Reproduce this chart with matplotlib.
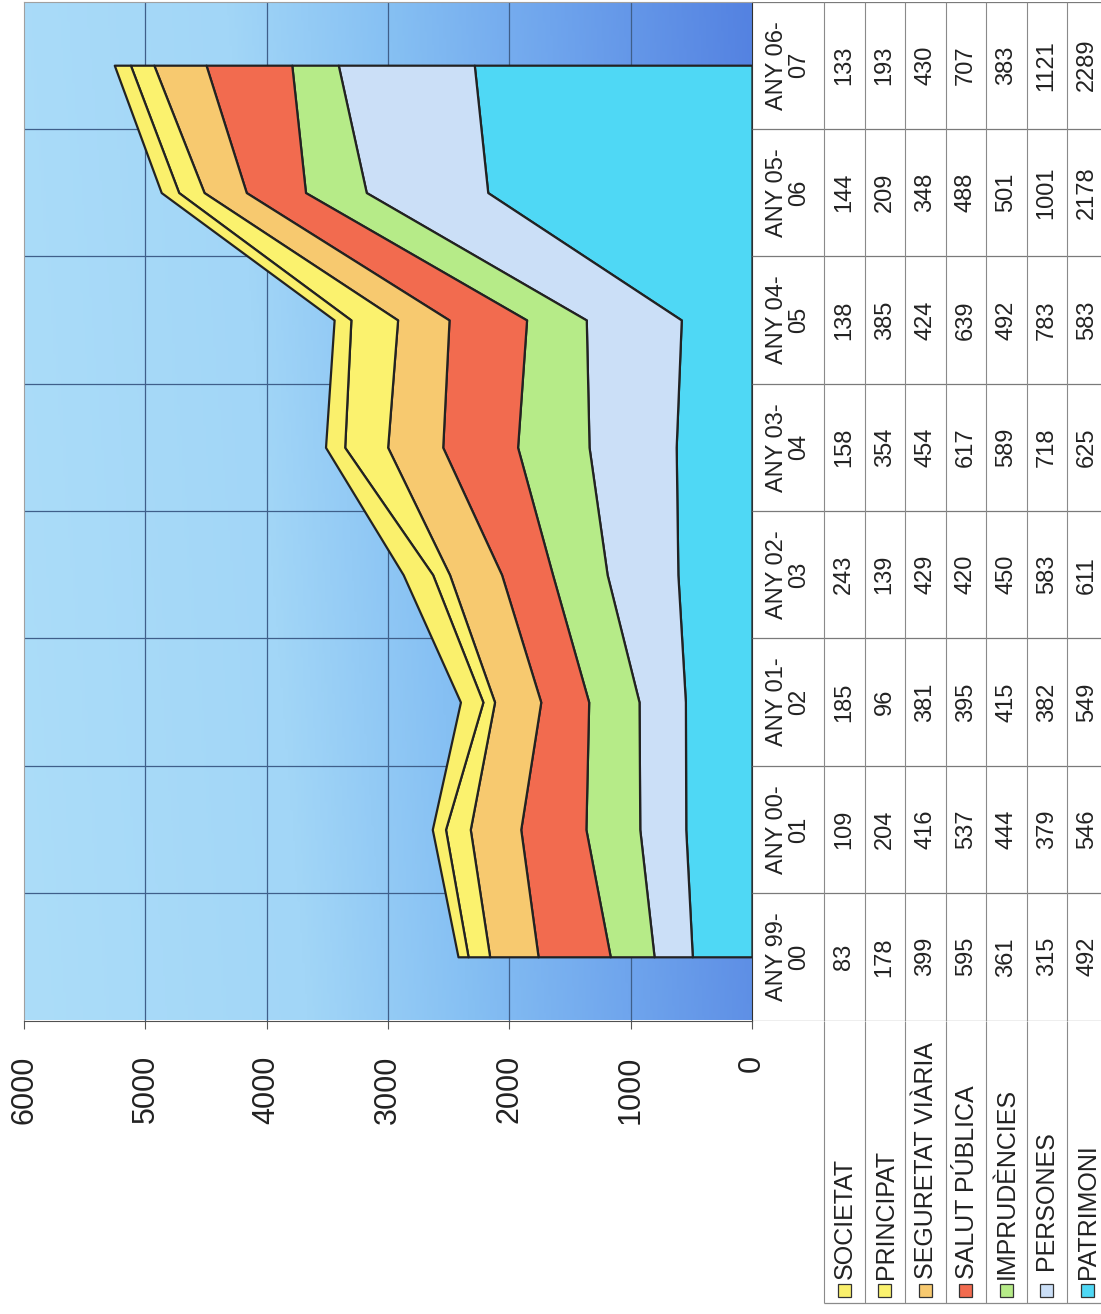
import numpy as np
import matplotlib.pyplot as plt
from matplotlib.colors import LinearSegmentedColormap
from matplotlib.patches import Rectangle

plt.rcParams['font.family'] = ['Liberation Sans', 'DejaVu Sans']

W, H, DPI = 1101, 1314, 100

# categories (school years), read bottom -> top in the rotated picture
years = ["ANY 99-\n00", "ANY 00-\n01", "ANY 01-\n02", "ANY 02-\n03",
         "ANY 03-\n04", "ANY 04-\n05", "ANY 05-\n06", "ANY 06-\n07"]

# series, in data-table order
names = ["SOCIETAT", "PRINCIPAT", "SEGURETAT VIÀRIA", "SALUT PÚBLICA",
         "IMPRUDÈNCIES", " PERSONES", "PATRIMONI"]
societat = [83, 109, 185, 243, 158, 138, 144, 133]
principat = [178, 204, 96, 139, 354, 385, 209, 193]
seguretat = [399, 416, 381, 429, 454, 424, 348, 430]
salut = [595, 537, 395, 420, 617, 639, 488, 707]
imprudencies = [361, 444, 415, 450, 589, 492, 501, 383]
persones = [315, 379, 382, 583, 718, 783, 1001, 1121]
patrimoni = [492, 546, 549, 611, 625, 583, 2178, 2289]
values = [societat, principat, seguretat, salut, imprudencies, persones, patrimoni]
colors = ["#faf06c", "#fbf26e", "#f7c96f", "#f26b4f", "#b6eb88", "#cbdff7", "#4fd8f5"]

value_ticks = [0, 1000, 2000, 3000, 4000, 5000, 6000]

fig = plt.figure(figsize=(W / DPI, H / DPI), dpi=DPI)

# main plot (rotated: values run right -> left, categories bottom -> top)
top_px, bot_px, left_px, right_px = 1.5, 1020.5, 24, 752
ax = fig.add_axes([left_px / W, (H - bot_px) / H,
                   (right_px - left_px) / W, (bot_px - top_px) / H])
ax.set_xlim(6000, 0)
ax.set_ylim(-0.5, len(years) - 0.5)

# gradient background, light on the left, darker toward the zero axis
cmap = LinearSegmentedColormap.from_list(
    "bg", [(0.0, "#acddf9"), (0.35, "#a2d6f7"), (0.55, "#86c0f3"),
           (0.75, "#6fa5ed"), (1.0, "#5482e1")])
xf = np.linspace(0, 1, 300)[None, :]
yf = np.linspace(0, 1, 300)[:, None]
grad = np.clip(0.9 * xf + 0.1 * yf, 0, 1)
ax.imshow(grad, extent=(6000, 0, -0.5, len(years) - 0.5), origin="lower",
          aspect="auto", cmap=cmap, vmin=0, vmax=1, zorder=0)

ax.vlines(value_ticks[1:-1], -0.5, len(years) - 0.5, color="#3f5f8a", lw=0.9, zorder=1)
ax.hlines(np.arange(len(years) - 1) + 0.5, 0, 6000, color="#3f5f8a", lw=0.9, zorder=1)

idx = np.arange(len(years))
base = np.zeros(len(years))
for vals, col in zip(values[::-1], colors[::-1]):
    top = base + np.array(vals)
    ax.fill_betweenx(idx, base, top, facecolor=col, edgecolor="#222222",
                     lw=1.6, zorder=2)
    base = top

ax.set_xticks(value_ticks)
ax.set_xticklabels([str(v) for v in value_ticks], rotation=90, fontsize=22, color="#222222")
ax.tick_params(axis="x", direction="out", length=6, pad=19, color="#555555")
ax.set_yticks([])
ax.spines["top"].set_color("#a0a0a0")
ax.spines["left"].set_color("#a0a0a0")
ax.spines["right"].set_color("#303030")
ax.spines["bottom"].set_color("#505050")
for s in ax.spines.values():
    s.set_zorder(3)

# data table to the right, sharing the category positions
tab_left = right_px
head_right = 824
row_w = 40.5
row_edges = [head_right + row_w * k for k in range(len(names) + 1)]
row_centers = [head_right + row_w * (k + 0.5) for k in range(len(names))]

tax = fig.add_axes([tab_left / W, (H - bot_px) / H,
                    (W - tab_left) / W, (bot_px - top_px) / H], sharey=ax)
tax.set_xlim(tab_left, W)
tax.axis("off")
tax.hlines(np.arange(len(years) + 1) - 0.5, tab_left, W, color="#7a7a7a", lw=0.9)
tax.vlines(row_edges, -0.5, len(years) - 0.5, color="#8a8a8a", lw=0.8)
for i, yr in enumerate(years):
    tax.text((tab_left + head_right) / 2, i, yr, rotation=90, ha="center", va="center",
             multialignment="center", fontsize=17, linespacing=1.05, color="#222222")
    for k, vals in enumerate(values):
        tax.text(row_centers[k], i, str(vals[i]), rotation=90, ha="center",
                 va="center", fontsize=17, color="#222222")

# legend column below the table
lax = fig.add_axes([tab_left / W, 0, (W - tab_left) / W, (H - bot_px) / H])
lax.set_xlim(tab_left, W)
lax.set_ylim(H, bot_px)
lax.axis("off")
leg_bottom = 1303
lax.vlines(row_edges, bot_px, leg_bottom, color="#8a8a8a", lw=0.8)
lax.hlines(leg_bottom, head_right, W, color="#8a8a8a", lw=0.9)
for k, (nm, col) in enumerate(zip(names, colors)):
    cx = row_centers[k]
    lax.add_patch(Rectangle((cx - 6.5, 1284), 13, 13, facecolor=col,
                            edgecolor="#333333", lw=0.9))
    lax.text(cx + 1, 1279, nm, rotation=90, ha="center", va="bottom",
             fontsize=18, color="#222222")

fig.savefig("out.png", dpi=DPI)
